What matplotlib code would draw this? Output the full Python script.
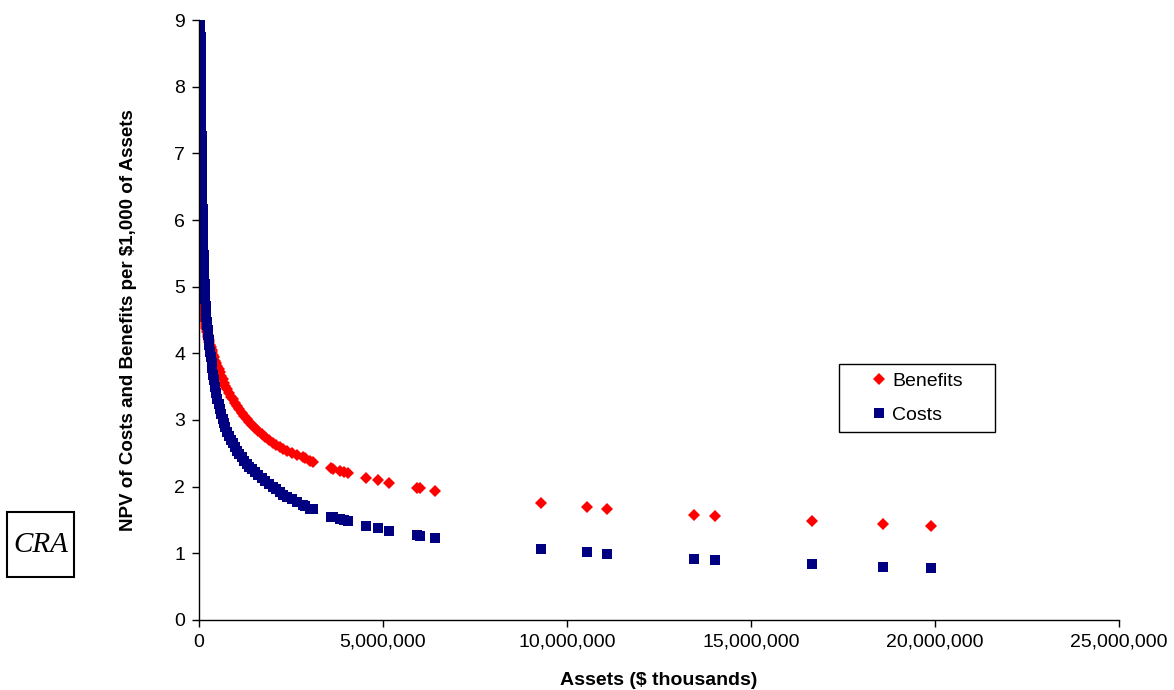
import matplotlib.pyplot as plt
from matplotlib.patches import Rectangle
from matplotlib.ticker import FuncFormatter

plt.rcParams['font.family'] = ['Liberation Sans', 'DejaVu Sans']

# bank assets ($ thousands)
assets = [
    4000, 5000, 6000, 7000, 8000, 9000, 10000, 11500, 13000, 14500,
    16000, 18000, 20000, 22500, 25000, 27500, 30000, 32500, 35000, 37500,
    40000, 42500, 45000, 47500, 50000, 52500, 55000, 57500, 60000, 62500,
    65000, 67500, 70000, 72500, 75000, 77500, 80000, 82500, 85000, 87500,
    90000, 92500, 95000, 97500, 100000, 105000, 110000, 115000, 120000, 125000,
    130000, 135000, 140000, 145000, 150000, 160000, 170000, 180000, 190000, 200000,
    210000, 220000, 235000, 250000, 265000, 280000, 300000, 320000, 340000, 360000,
    385000, 410000, 440000, 470000, 500000, 530000, 560000, 600000, 640000, 680000,
    720000, 770000, 820000, 870000, 920000, 980000, 1040000, 1100000, 1160000, 1230000,
    1300000, 1370000, 1440000, 1520000, 1600000, 1700000, 1800000, 1900000, 2000000, 2100000,
    2200000, 2290000, 2400000, 2520000, 2650000, 2830000, 2880000, 3020000, 3110000, 3580000,
    3650000, 3830000, 3950000, 4060000, 4530000, 4860000, 5170000, 5930000, 6000000, 6410000,
    9290000, 10540000, 11090000, 13450000, 14020000, 16660000, 18590000, 19890000,
]

# NPV of benefits per $1,000 of assets
benefits = [
    9.40, 9.00, 8.70, 8.45, 8.20, 8.00, 7.80, 7.55, 7.35, 7.15,
    7.00, 6.80, 6.62, 6.45, 6.30, 6.16, 6.04, 5.94, 5.85, 5.77,
    5.70, 5.63, 5.57, 5.51, 5.46, 5.41, 5.36, 5.32, 5.28, 5.24,
    5.20, 5.17, 5.14, 5.11, 5.08, 5.05, 5.02, 5.00, 4.97, 4.95,
    4.93, 4.91, 4.89, 4.87, 4.85, 4.81, 4.78, 4.75, 4.72, 4.69,
    4.66, 4.63, 4.61, 4.58, 4.56, 4.52, 4.48, 4.44, 4.41, 4.38,
    4.35, 4.32, 4.28, 4.24, 4.20, 4.17, 4.13, 4.09, 4.05, 4.02,
    3.98, 3.94, 3.89, 3.85, 3.81, 3.76, 3.72, 3.66, 3.61, 3.56,
    3.51, 3.46, 3.40, 3.35, 3.31, 3.26, 3.21, 3.16, 3.11, 3.06,
    3.01, 2.97, 2.93, 2.88, 2.84, 2.79, 2.74, 2.70, 2.66, 2.62,
    2.59, 2.56, 2.54, 2.51, 2.48, 2.44, 2.425, 2.39, 2.375, 2.275,
    2.27, 2.24, 2.22, 2.21, 2.135, 2.095, 2.06, 1.98, 1.975, 1.94,
    1.755, 1.69, 1.665, 1.575, 1.56, 1.485, 1.44, 1.41,
]

# NPV of costs per $1,000 of assets
costs = [
    15.0, 14.2, 13.5, 12.9, 12.4, 12.0, 11.6, 11.1, 10.7, 10.4,
    10.1, 9.90, 9.70, 9.55, 9.45, 9.37, 9.30, 9.20, 9.10, 9.00,
    8.88, 8.75, 8.62, 8.48, 8.34, 8.20, 8.06, 7.92, 7.78, 7.64,
    7.50, 7.38, 7.26, 7.14, 7.03, 6.92, 6.82, 6.72, 6.62, 6.52,
    6.43, 6.34, 6.25, 6.17, 6.09, 5.95, 5.82, 5.70, 5.59, 5.48,
    5.38, 5.29, 5.20, 5.12, 5.04, 4.92, 4.81, 4.71, 4.62, 4.54,
    4.47, 4.42, 4.35, 4.28, 4.20, 4.12, 4.02, 3.94, 3.86, 3.78,
    3.68, 3.60, 3.50, 3.41, 3.32, 3.24, 3.17, 3.09, 3.02, 2.95,
    2.89, 2.82, 2.76, 2.70, 2.65, 2.59, 2.54, 2.49, 2.44, 2.39,
    2.34, 2.30, 2.26, 2.22, 2.18, 2.13, 2.09, 2.04, 2.00, 1.96,
    1.92, 1.88, 1.85, 1.81, 1.77, 1.72, 1.71, 1.67, 1.66, 1.55,
    1.545, 1.51, 1.495, 1.485, 1.415, 1.375, 1.34, 1.27, 1.265, 1.235,
    1.065, 1.02, 0.99, 0.915, 0.90, 0.84, 0.795, 0.78,
]

W, H = 1174, 690
fig = plt.figure(figsize=(W / 100, H / 100), dpi=100)
ax = fig.add_axes([199 / W, 70 / H, 920 / W, 600 / H])

ax.plot(assets, benefits, linestyle='none', marker='D', markersize=6.0,
        color='#FF0000', markeredgewidth=0, label='Benefits')
ax.plot(assets, costs, linestyle='none', marker='s', markersize=7.4,
        color='#000080', markeredgewidth=0, label='Costs')

ax.set_xlim(0, 25000000)
ax.set_ylim(0, 9)
ax.set_xticks(range(0, 25000001, 5000000))
ax.set_yticks(range(0, 10))
ax.xaxis.set_major_formatter(FuncFormatter(lambda v, p: f'{int(v):,}'))

ax.spines['top'].set_visible(False)
ax.spines['right'].set_visible(False)
for s in ['left', 'bottom']:
    ax.spines[s].set_linewidth(1.0)
    ax.spines[s].set_color('black')
ax.tick_params(direction='out', length=5, width=1, labelsize=14, colors='black', pad=5)

ax.set_xlabel('Assets ($ thousands)', fontsize=14, fontweight='bold', labelpad=15)
ax.set_ylabel('NPV of Costs and Benefits per $1,000 of Assets', fontsize=13.5,
              fontweight='bold', labelpad=27)

# legend box
ax.add_patch(Rectangle((839 / W, 1 - 432 / H), 156 / W, 68 / H,
                       transform=fig.transFigure, facecolor='white',
                       edgecolor='black', linewidth=1.0, clip_on=False, zorder=4))
leg = ax.legend(loc='center left', bbox_to_anchor=(869 / W, 1 - 398 / H),
                bbox_transform=fig.transFigure, fontsize=14, frameon=False,
                borderpad=0, labelspacing=0.85, handletextpad=0.2,
                handlelength=1.0, borderaxespad=0)
leg.set_zorder(5)

# CRA logo box
fig.add_artist(Rectangle((7 / W, 1 - 577 / H), 67 / W, 65 / H,
                         transform=fig.transFigure, facecolor='white',
                         edgecolor='black', linewidth=1.5))
fig.text(40.5 / W, 1 - 545 / H, 'CRA', ha='center', va='center', fontsize=21,
         family='Liberation Serif', style='italic')

fig.savefig('out.png', dpi=100)
